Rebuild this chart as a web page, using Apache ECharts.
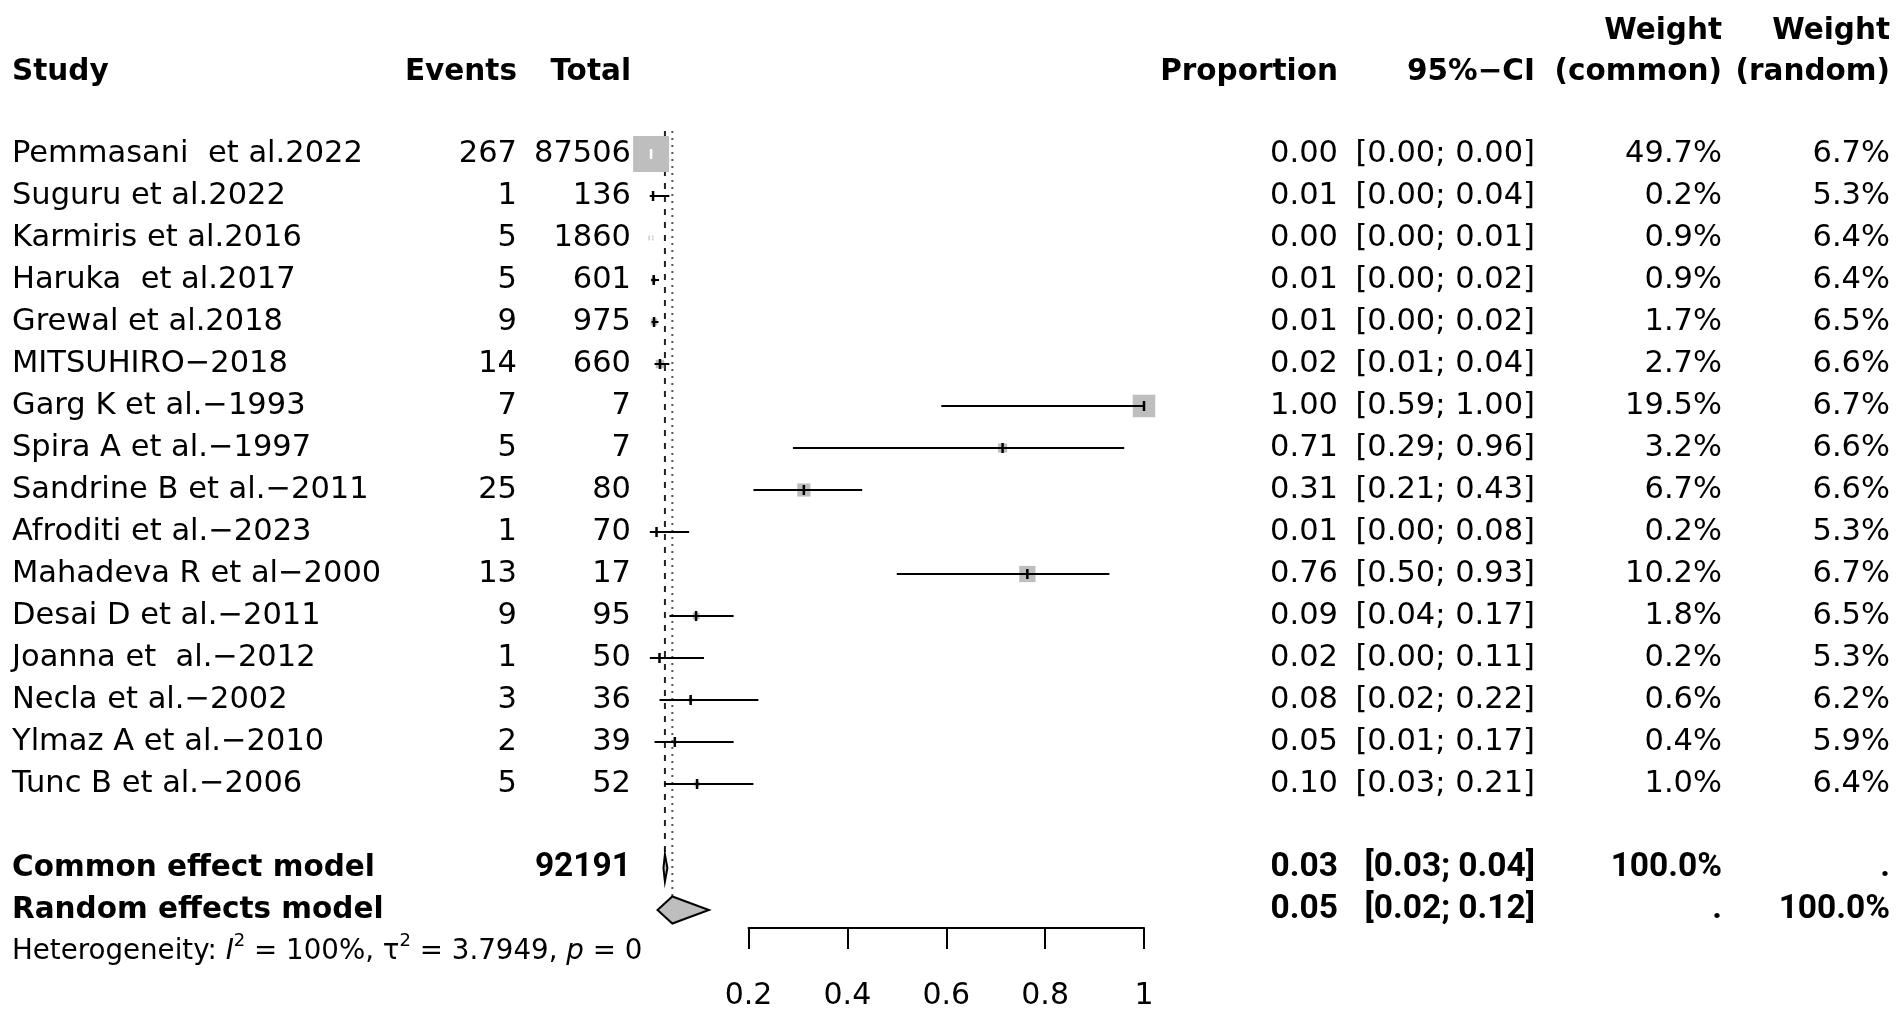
<!DOCTYPE html>
<html>
<head>
<meta charset="utf-8">
<script src="https://cdn.jsdelivr.net/npm/echarts@6/dist/echarts.min.js"></script>
<style>
html,body{margin:0;padding:0;background:#fff;}
#chart{width:1902px;height:1015px;}
</style>
</head>
<body>
<div id="chart"></div>
<script>
// ---------------- DATA ----------------
const studies = [
  'Pemmasani  et al.2022', 'Suguru et al.2022', 'Karmiris et al.2016', 'Haruka  et al.2017',
  'Grewal et al.2018', 'MITSUHIRO\u22122018', 'Garg K et al.\u22121993', 'Spira A et al.\u22121997',
  'Sandrine B et al.\u22122011', 'Afroditi et al.\u22122023', 'Mahadeva R et al\u22122000', 'Desai D et al.\u22122011',
  'Joanna et  al.\u22122012', 'Necla et al.\u22122002', 'Ylmaz A et al.\u22122010', 'Tunc B et al.\u22122006'
];
const events = [267, 1, 5, 5, 9, 14, 7, 5, 25, 1, 13, 9, 1, 3, 2, 5];
const totals = [87506, 136, 1860, 601, 975, 660, 7, 7, 80, 70, 17, 95, 50, 36, 39, 52];
const proportion = [0.003, 0.007, 0.0027, 0.0083, 0.009, 0.021, 1.00, 0.714, 0.312, 0.014, 0.764, 0.094, 0.02, 0.083, 0.051, 0.096];
const ciLower = [0.0027, 0.0002, 0.001, 0.003, 0.004, 0.01, 0.59, 0.29, 0.21, 0.0004, 0.50, 0.04, 0.0005, 0.02, 0.01, 0.03];
const ciUpper = [0.0034, 0.04, 0.006, 0.019, 0.018, 0.04, 1.00, 0.96, 0.43, 0.08, 0.93, 0.17, 0.11, 0.22, 0.17, 0.21];
const weightCommon = [49.7, 0.2, 0.9, 0.9, 1.7, 2.7, 19.5, 3.2, 6.7, 0.2, 10.2, 1.8, 0.2, 0.6, 0.4, 1.0];
const weightRandom = [6.7, 5.3, 6.4, 6.4, 6.5, 6.6, 6.7, 6.6, 6.6, 5.3, 6.7, 6.5, 5.3, 6.2, 5.9, 6.4];

const summaryNames = ['Common effect model', 'Random effects model'];
const summaryTotal = 92191;
const summaryEst = [0.031, 0.046];
const summaryLower = [0.028, 0.016];
const summaryUpper = [0.036, 0.12];
const summaryWeightCommon = ['100.0%', '.'];
const summaryWeightRandom = ['.', '100.0%'];
const heterogeneity = { I2: '100%', tau2: '3.7949', p: '0' };
const xTicks = [0.2, 0.4, 0.6, 0.8, 1];

// ---------------- LAYOUT ----------------
const FONT = 'DejaVu Sans';
const NUMBOLD_FONT = 'Roboto';
const FS = 30.5, FSB = 29.5, FSNB = 33.5, FSH = 27.7;
const COL = { study: 12, events: 517, total: 631, prop: 1338, ci: 1535, wc: 1722, wr: 1890 };
const ROW_SUMMARY = [17, 18], ROW_HET = 19, ROW_H1 = -2.93, ROW_H2 = -1.95;
const BOX_SCALE = 5.1;

function cell(text, x, align, bold, num) {
  return { text: String(text), x: x, align: align, bold: !!bold, num: !!num };
}
const tableRows = [];
tableRows.push({ row: ROW_H1, cells: [cell('Weight', COL.wc, 'right', 1), cell('Weight', COL.wr, 'right', 1)] });
tableRows.push({ row: ROW_H2, cells: [
  cell('Study', COL.study, 'left', 1), cell('Events', COL.events, 'right', 1), cell('Total', COL.total, 'right', 1),
  cell('Proportion', COL.prop, 'right', 1), cell('95%\u2212CI', COL.ci, 'right', 1),
  cell('(common)', COL.wc, 'right', 1), cell('(random)', COL.wr, 'right', 1)
] });
studies.forEach(function (s, i) {
  tableRows.push({ row: i, cells: [
    cell(s, COL.study, 'left'), cell(events[i], COL.events, 'right'), cell(totals[i], COL.total, 'right'),
    cell(proportion[i].toFixed(2), COL.prop, 'right'),
    cell('[' + ciLower[i].toFixed(2) + '; ' + ciUpper[i].toFixed(2) + ']', COL.ci, 'right'),
    cell(weightCommon[i].toFixed(1) + '%', COL.wc, 'right'), cell(weightRandom[i].toFixed(1) + '%', COL.wr, 'right')
  ] });
});
summaryNames.forEach(function (n, k) {
  const cells = [cell(n, COL.study, 'left', 1)];
  if (k === 0) cells.push(cell(summaryTotal, COL.total, 'right', 1, 1));
  cells.push(cell(summaryEst[k].toFixed(2), COL.prop, 'right', 1, 1));
  cells.push(cell('[' + summaryLower[k].toFixed(2) + '; ' + summaryUpper[k].toFixed(2) + ']', COL.ci, 'right', 1, 1));
  cells.push(cell(summaryWeightCommon[k], COL.wc, 'right', 1, 1));
  cells.push(cell(summaryWeightRandom[k], COL.wr, 'right', 1, 1));
  tableRows.push({ row: ROW_SUMMARY[k], cells: cells });
});
tableRows.push({ row: ROW_HET, het: true, cells: [] });

function renderTable(params, api) {
  const r = tableRows[params.dataIndex];
  const y = api.coord([0, r.row])[1];
  if (r.het) {
    return {
      type: 'text',
      style: {
        x: COL.study, y: y, align: 'left', verticalAlign: 'middle',
        text: '{n|Heterogeneity: }{it|I}{sup|2}{n| = ' + heterogeneity.I2 + ', \u03c4}{sup|2}{n| = ' + heterogeneity.tau2 + ', }{it|p}{n| = ' + heterogeneity.p + '}',
        fill: '#000',
        rich: {
          n: { fontSize: FSH, fontFamily: FONT, fill: '#000', lineHeight: 40 },
          it: { fontSize: FSH, fontFamily: FONT, fontStyle: 'italic', fill: '#000', lineHeight: 40 },
          sup: { fontSize: 18, fontFamily: FONT, fill: '#000', lineHeight: 18, verticalAlign: 'top' }
        }
      }
    };
  }
  return {
    type: 'group',
    children: r.cells.map(function (c) {
      return {
        type: 'text',
        style: {
          text: c.text, x: c.x, y: y, align: c.align, verticalAlign: 'middle',
          fontSize: c.num ? FSNB : (c.bold ? FSB : FS), fontWeight: c.bold ? 'bold' : 'normal',
          fontFamily: c.num ? NUMBOLD_FONT : FONT, fill: '#000'
        }
      };
    })
  };
}

function renderStudy(params, api) {
  const row = api.value(0), lo = api.value(1), hi = api.value(2), est = api.value(3), w = api.value(4);
  const pe = api.coord([est, row]);
  const pl = api.coord([lo, row]);
  const ph = api.coord([hi, row]);
  const side = BOX_SCALE * Math.sqrt(w);
  const inside = pl[0] >= pe[0] - side / 2 && ph[0] <= pe[0] + side / 2;
  const col = inside ? '#ffffff' : '#000000';
  return {
    type: 'group',
    children: [
      { type: 'rect', shape: { x: pe[0] - side / 2, y: pe[1] - side / 2, width: side, height: side }, style: { fill: '#bebebe' } },
      { type: 'line', shape: { x1: pl[0], y1: pl[1], x2: ph[0], y2: ph[1] }, style: { stroke: col, lineWidth: 2 } },
      { type: 'line', shape: { x1: pe[0], y1: pe[1] - 5, x2: pe[0], y2: pe[1] + 5 }, style: { stroke: col, lineWidth: 2.5 } }
    ]
  };
}

function renderDiamond(params, api) {
  const row = api.value(0), lo = api.value(1), est = api.value(2), hi = api.value(3);
  const pl = api.coord([lo, row]), pe = api.coord([est, row]), ph = api.coord([hi, row]);
  const h = 13.5;
  return {
    type: 'polygon',
    shape: { points: [[pl[0], pl[1]], [pe[0], pe[1] - h], [ph[0], ph[1]], [pe[0], pe[1] + h]] },
    style: { fill: '#bebebe', stroke: '#000', lineWidth: 2, lineJoin: 'miter' }
  };
}

const refLines = [
  [summaryEst[0], -0.55, ROW_SUMMARY[0] + 0.32, 0],
  [summaryEst[1], -0.55, ROW_SUMMARY[1] - 0.33, 1]
];
function renderRef(params, api) {
  const x = api.value(0), y0 = api.value(1), y1 = api.value(2), kind = api.value(3);
  const a = api.coord([x, y0]), b = api.coord([x, y1]);
  return {
    type: 'line',
    shape: { x1: a[0], y1: a[1], x2: b[0], y2: b[1] },
    style: kind === 0
      ? { stroke: '#222', lineWidth: 2, lineDash: [6, 7] }
      : { stroke: '#555', lineWidth: 2, lineDash: [2, 5] }
  };
}

const chart = echarts.init(document.getElementById('chart'), null, { renderer: 'canvas' });
chart.setOption({
  animation: false,
  backgroundColor: '#ffffff',
  grid: [
    { left: 649.6, width: 494.4, top: 7, height: 987 },
    { left: 748.5, width: 395.5, top: 800, height: 128 }
  ],
  xAxis: [
    { gridIndex: 0, type: 'value', min: 0, max: 1, show: false },
    {
      gridIndex: 1, type: 'value', min: xTicks[0], max: xTicks[xTicks.length - 1], interval: 0.2, position: 'bottom',
      axisLine: { show: true, lineStyle: { color: '#000', width: 2 } },
      axisTick: { show: true, length: 21, lineStyle: { color: '#000', width: 2 } },
      axisLabel: { fontSize: 30, fontFamily: FONT, color: '#000', margin: 53, showMinLabel: true, showMaxLabel: true,
        formatter: function (v) { return String(+v.toFixed(1)); } },
      splitLine: { show: false }
    }
  ],
  yAxis: [
    { gridIndex: 0, type: 'value', min: -3.5, max: 20, inverse: true, show: false },
    { gridIndex: 1, type: 'value', min: 0, max: 1, show: false }
  ],
  series: [
    {
      type: 'custom', name: 'reference', xAxisIndex: 0, yAxisIndex: 0, clip: false, silent: true,
      renderItem: renderRef, data: refLines, encode: { x: 0, y: [1, 2] }, z: 1
    },
    {
      type: 'custom', name: 'studies', xAxisIndex: 0, yAxisIndex: 0, clip: false, silent: true,
      renderItem: renderStudy,
      data: studies.map(function (s, i) { return [i, ciLower[i], ciUpper[i], proportion[i], weightCommon[i]]; }),
      encode: { x: [1, 2, 3], y: 0 }, z: 2
    },
    {
      type: 'custom', name: 'summary', xAxisIndex: 0, yAxisIndex: 0, clip: false, silent: true,
      renderItem: renderDiamond,
      data: summaryNames.map(function (n, k) { return [ROW_SUMMARY[k], summaryLower[k], summaryEst[k], summaryUpper[k]]; }),
      encode: { x: [1, 2, 3], y: 0 }, z: 3
    },
    {
      type: 'custom', name: 'table', xAxisIndex: 0, yAxisIndex: 0, clip: false, silent: true,
      renderItem: renderTable,
      data: tableRows.map(function (r) { return [0, r.row]; }),
      encode: { x: 0, y: 1 }, z: 4
    }
  ]
});
</script>
</body>
</html>
